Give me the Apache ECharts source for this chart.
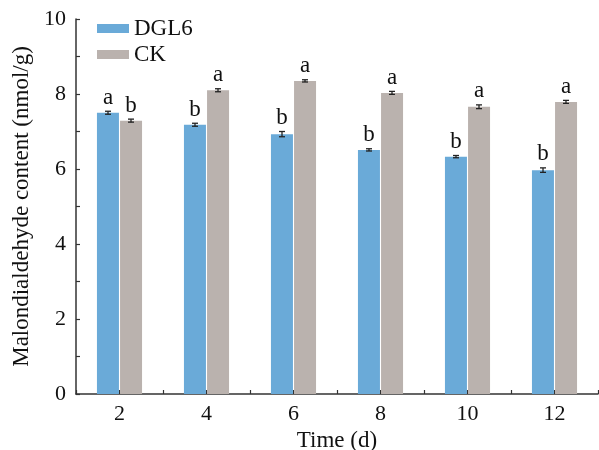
<!DOCTYPE html>
<html>
<head>
<meta charset="utf-8">
<script src="https://cdn.jsdelivr.net/npm/echarts@6/dist/echarts.min.js"></script>
<style>html,body{margin:0;padding:0;background:#fff}#c{width:599px;height:450px}</style>
</head>
<body>
<div id="c"></div>
<script>
const days = [2, 4, 6, 8, 10, 12];
const dgl6 = [7.50, 7.18, 6.93, 6.51, 6.33, 5.97];
const ck = [7.29, 8.10, 8.35, 8.03, 7.66, 7.79];
const dgl6Err = [0.04, 0.04, 0.07, 0.03, 0.03, 0.06];
const ckErr = [0.04, 0.04, 0.03, 0.04, 0.05, 0.04];
const dgl6Sig = ['a', 'b', 'b', 'b', 'b', 'b'];
const ckSig = ['b', 'a', 'a', 'a', 'a', 'a'];
const yTickLabels = ['0', '2', '4', '6', '8', '10'];
const xTickLabels = ['2', '4', '6', '8', '10', '12'];

const FONT = 'Liberation Serif';
const BLUE = '#6aaad8';
const GREY = '#bab2ae';
const BAR_W = 22;

const chart = echarts.init(document.getElementById('c'));

function errSeries(vals, errs, sig, offset) {
  return {
    type: 'custom',
    z: 5,
    data: days.map((d, i) => [d, vals[i], errs[i]]),
    renderItem: function (params, api) {
      const x = api.value(0), y = api.value(1), e = api.value(2);
      const pTop = api.coord([x, y + e]);
      const pBot = api.coord([x, y - e]);
      const cx = pTop[0] + offset;
      const cap = 3;
      const st = { stroke: '#222', lineWidth: 1.3 };
      return {
        type: 'group',
        children: [
          { type: 'line', shape: { x1: cx, y1: pTop[1], x2: cx, y2: pBot[1] }, style: st },
          { type: 'line', shape: { x1: cx - cap, y1: pTop[1], x2: cx + cap, y2: pTop[1] }, style: st },
          { type: 'line', shape: { x1: cx - cap, y1: pBot[1], x2: cx + cap, y2: pBot[1] }, style: st },
          { type: 'text', style: { text: sig[params.dataIndex], x: cx, y: pTop[1] - 2, align: 'center', verticalAlign: 'bottom', fontFamily: FONT, fontSize: 23, fill: '#111' } }
        ]
      };
    }
  };
}

chart.setOption({
  animation: false,
  backgroundColor: '#fff',
  textStyle: { fontFamily: FONT },
  grid: { left: 76, right: 1, top: 19, bottom: 56, containLabel: false, outerBoundsMode: 'none' },
  legend: {
    left: 92, top: 12, orient: 'vertical', itemWidth: 32, itemHeight: 9, itemGap: 3,
    icon: 'rect',
    textStyle: { fontFamily: FONT, fontSize: 23, color: '#111' },
    data: ['DGL6', 'CK']
  },
  xAxis: {
    type: 'value', min: 1, max: 13, interval: 1,
    name: 'Time (d)', nameLocation: 'middle', nameGap: 32,
    nameTextStyle: { fontFamily: FONT, fontSize: 23, color: '#111' },
    axisLine: { lineStyle: { color: '#333', width: 1.5 } },
    axisTick: { inside: true, length: 4, lineStyle: { color: '#333', width: 1.2 } },
    axisLabel: {
      fontFamily: FONT, fontSize: 22, color: '#111', margin: 9,
      formatter: v => { const i = days.indexOf(v); return i >= 0 ? xTickLabels[i] : ''; }
    },
    splitLine: { show: false }
  },
  yAxis: {
    type: 'value', min: 0, max: 10, interval: 1,
    name: 'Malondialdehyde content (nmol/g)', nameLocation: 'middle', nameGap: 43,
    nameTextStyle: { fontFamily: FONT, fontSize: 23, color: '#111' },
    axisLine: { show: true, lineStyle: { color: '#333', width: 1.5 } },
    axisTick: { show: true, inside: true, length: 4, lineStyle: { color: '#333', width: 1.2 } },
    axisLabel: {
      fontFamily: FONT, fontSize: 22, color: '#111', margin: 10,
      formatter: v => (v % 2 === 0 ? yTickLabels[v / 2] : '')
    },
    splitLine: { show: false }
  },
  series: [
    { name: 'DGL6', type: 'bar', barWidth: BAR_W, barGap: '5%', itemStyle: { color: BLUE },
      data: days.map((d, i) => [d, dgl6[i]]) },
    { name: 'CK', type: 'bar', barWidth: BAR_W, barGap: '5%', itemStyle: { color: GREY },
      data: days.map((d, i) => [d, ck[i]]) },
    errSeries(dgl6, dgl6Err, dgl6Sig, -11.5),
    errSeries(ck, ckErr, ckSig, 11.5)
  ]
});
</script>
</body>
</html>
